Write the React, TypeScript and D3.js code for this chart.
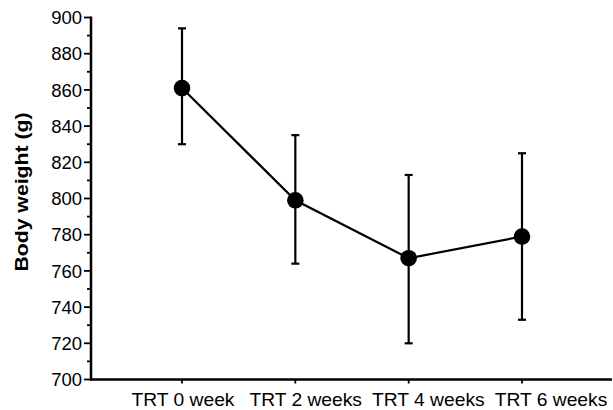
import * as d3 from "d3";

const categories = ["TRT 0 week", "TRT 2 weeks", "TRT 4 weeks", "TRT 6 weeks"];
const means = [861, 799, 767, 779];
const upper = [894, 835, 813, 825];
const lower = [830, 764, 720, 733];
const yTicks = [700, 720, 740, 760, 780, 800, 820, 840, 860, 880, 900];

const width = 613;
const height = 410;
const font = "'Liberation Sans', Arial, sans-serif";

export default function App() {
  const x = d3.scalePoint<string>().domain(categories).range([182, 522]);
  // category labels in the source sit a bit wider apart than the ticks
  const xLabel = d3.scalePoint<string>().domain(categories).range([183, 551]);
  const y = d3.scaleLinear().domain([700, 900]).range([379.5, 17.5]);
  const minor = d3.range(710, 900, 20);

  const line = d3
    .line<number>()
    .x((_, i) => x(categories[i]) as number)
    .y((d) => y(d));

  const axisLeft = 91;
  const axisRight = 612;

  return (
    <svg
      width={width}
      height={height}
      style={{ position: "absolute", left: 0, top: 0, background: "white" }}
    >
      {/* y axis */}
      <line x1={axisLeft} x2={axisLeft} y1={y(900) - 1} y2={y(700) + 1} stroke="black" strokeWidth={2.5} />
      {yTicks.map((t) => (
        <g key={t}>
          <line x1={axisLeft - 7} x2={axisLeft} y1={y(t)} y2={y(t)} stroke="black" strokeWidth={1.8} />
          <text
            x={axisLeft - 9}
            y={y(t)}
            dy="0.36em"
            textAnchor="end"
            fontFamily={font}
            fontSize={18.5}
          >
            {t}
          </text>
        </g>
      ))}
      {minor.map((t) => (
        <line key={t} x1={axisLeft - 4} x2={axisLeft} y1={y(t)} y2={y(t)} stroke="black" strokeWidth={1.8} />
      ))}
      <text
        transform={`translate(27.5,192) rotate(-90) scale(1.18,1)`}
        textAnchor="middle"
        fontFamily={font}
        fontSize={18}
        fontWeight="bold"
      >
        Body weight (g)
      </text>

      {/* x axis */}
      <line x1={axisLeft - 1} x2={axisRight} y1={y(700)} y2={y(700)} stroke="black" strokeWidth={2.5} />
      {categories.map((c) => (
        <g key={c}>
          <line x1={x(c)} x2={x(c)} y1={y(700)} y2={y(700) + 4} stroke="black" strokeWidth={1.8} />
          <text
            transform={`translate(${xLabel(c)},406) scale(1.1,1)`}
            textAnchor="middle"
            fontFamily={font}
            fontSize={17.5}
          >
            {c}
          </text>
        </g>
      ))}

      {/* error bars */}
      {categories.map((c, i) => {
        const cx = x(c) as number;
        return (
          <g key={c}>
            <line x1={cx} x2={cx} y1={y(upper[i])} y2={y(lower[i])} stroke="black" strokeWidth={2.2} />
            <line x1={cx - 4} x2={cx + 4} y1={y(upper[i])} y2={y(upper[i])} stroke="black" strokeWidth={2.2} />
            <line x1={cx - 4} x2={cx + 4} y1={y(lower[i])} y2={y(lower[i])} stroke="black" strokeWidth={2.2} />
          </g>
        );
      })}

      <path d={line(means) ?? ""} fill="none" stroke="black" strokeWidth={2.2} />
      {means.map((m, i) => (
        <circle key={i} cx={x(categories[i])} cy={y(m)} r={8.3} fill="black" />
      ))}
    </svg>
  );
}
